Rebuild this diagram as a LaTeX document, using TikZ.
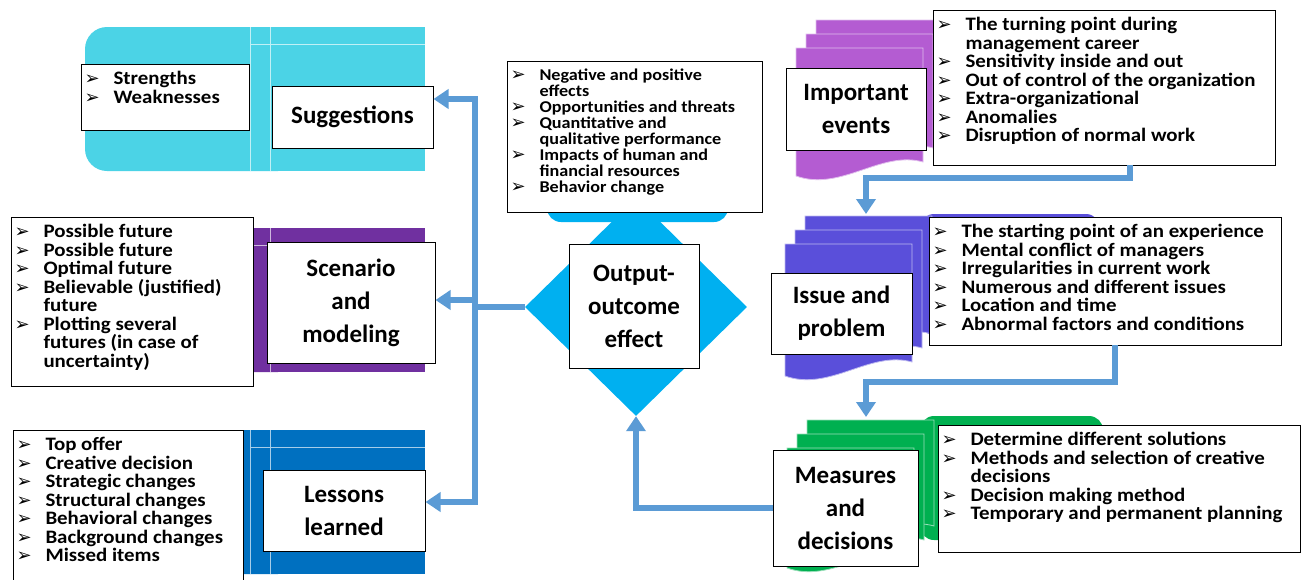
\documentclass[tikz,border=0pt]{standalone}
\usepackage{fontspec}
\setmainfont{Carlito}
\newfontfamily\bulfont[FakeStretch=1.1]{Carlito}
\newfontfamily\symfont{DejaVu Sans}
\usetikzlibrary{arrows.meta, shapes.geometric}

\definecolor{sugcol}{HTML}{4BD3E6}
\definecolor{scncol}{HTML}{7030A0}
\definecolor{lescol}{HTML}{0070C0}
\definecolor{outcol}{HTML}{00B0F0}
\definecolor{impcol}{HTML}{B45CD2}
\definecolor{isscol}{HTML}{5A4FDA}
\definecolor{meacol}{HTML}{00B050}
\definecolor{arrcol}{HTML}{5B9BD5}

\newcommand\itm[1]{\par\noindent\hangindent=29pt\hangafter=1\makebox[29pt][l]{\symfont\fontsize{18}{18}\selectfont ➢}#1}
\newcommand\lst[3]{\parbox[c][#2][t]{#1}{\vspace*{4pt}#3}}

\begin{document}
\begin{tikzpicture}[x=1pt, y=-1pt,
    titlebox/.style={draw, line width=1pt, fill=white, align=center, inner sep=2pt,
      font=\bfseries\fontsize{25}{33}\selectfont},
    listbox/.style={draw, line width=1pt, fill=white, anchor=north west, inner sep=3pt,
      font=\bulfont\bfseries\fontsize{19}{18.5}\selectfont},
    conn/.style={draw=arrcol, line width=6pt},
    arr/.style={conn, -{Triangle[width=19pt,length=15pt]}}]
    \useasboundingbox (0,0) rectangle (1308,579);

    \foreach \ty/\col in {27/sugcol, 228/scncol, 430/lescol} {
        \fill[\col, rounded corners=22] (300,\ty) -- (85,\ty) -- (85,\ty+144) -- (300,\ty+144) -- cycle;
        \fill[\col] (250,\ty) rectangle (425,\ty+144);
        \draw[white!65!\col, line width=1pt] (250,\ty) -- (250,\ty+144) (270,\ty) -- (270,\ty+144)
            (250,\ty+17) -- (425,\ty+17);
    }

    \fill[isscol, rounded corners=14] (920,214) rectangle (1100,335);
    \fill[meacol, rounded corners=14] (920,416) rectangle (1103,540);
    \foreach \fx/\fy/\h/\col in {796/48/132/impcol, 785/244/136/isscol, 787/448/124/meacol}
        \foreach \k in {2,1,0}
            \fill[\col, draw=white!60!\col, line width=0.8pt, shift={(\fx+10*\k,\fy-14*\k)}]
                (0,0) -- (127,0) -- (127,\h-18) .. controls (85,\h-30) and (45,\h+12) .. (0,\h-4) -- cycle;

    \fill[outcol, rounded corners=14] (547,150) rectangle (728,222);
    \node[diamond, fill=outcol, minimum width=222, minimum height=218, inner sep=0] (dia) at (636,307) {};

    \node[listbox] (sugb) at (81,64) {\lst{162pt}{60pt}{%
        \itm{Strengths}\itm{Weaknesses}}};
    \node[listbox] (scnb) at (11,217) {\lst{236pt}{163pt}{%
        \itm{Possible future}\itm{Possible future}\itm{Optimal future}%
        \itm{Believable (justified)\\future}%
        \itm{Plotting several\\futures (in case of\\uncertainty)}}};
    \node[listbox] (lesb) at (13,430) {\lst{224pt}{154pt}{%
        \itm{Top offer}\itm{Creative decision}\itm{Strategic changes}%
        \itm{Structural changes}\itm{Behavioral changes}\itm{Background changes}%
        \itm{Missed items}}};
    \node[listbox] (outb) at (507,61) {\lst{249pt}{145pt}{%
        \fontsize{16.5}{16}\selectfont
        \itm{Negative and positive\\effects}\itm{Opportunities and threats}%
        \itm{Quantitative and\\qualitative performance}%
        \itm{Impacts of human and\\financial resources}\itm{Behavior change}}};
    \node[listbox] (impb) at (933,10) {\lst{336pt}{149pt}{%
        \itm{The turning point during\\management career}%
        \itm{Sensitivity inside and out}\itm{Out of control of the organization}%
        \itm{Extra-organizational}\itm{Anomalies}\itm{Disruption of normal work}}};
    \node[listbox] (issb) at (929,217) {\lst{346pt}{122pt}{%
        \itm{The starting point of an experience}\itm{Mental conflict of managers}%
        \itm{Irregularities in current work}\itm{Numerous and different issues}%
        \itm{Location and time}\itm{Abnormal factors and conditions}}};
    \node[listbox] (meab) at (938,425) {\lst{356pt}{121pt}{%
        \itm{Determine different solutions}%
        \itm{Methods and selection of creative\\decisions}%
        \itm{Decision making method}\itm{Temporary and permanent planning}}};

    \node[titlebox, minimum width=161, minimum height=62] (sugt) at (352.5,117) {Suggestions};
    \node[titlebox, minimum width=168, minimum height=121] (scnt) at (351,302.5) {Scenario\\and\\modeling};
    \node[titlebox, minimum width=162, minimum height=81] (lest) at (344,510.5) {Lessons\\learned};
    \node[titlebox, minimum width=130, minimum height=124] (outt) at (634,306) {Output-\\outcome\\effect};
    \node[titlebox, minimum width=140, minimum height=82] (impt) at (856,109) {Important\\events};
    \node[titlebox, minimum width=141, minimum height=81] (isst) at (841.5,313.5) {Issue and\\problem};
    \node[titlebox, minimum width=145, minimum height=116] (meat) at (845.5,508) {Measures\\and\\decisions};

    \coordinate (jt) at (475,99);
    \coordinate (jm) at (475,300);
    \coordinate (jb) at (475,502);
    \coordinate (impout) at (1130,165);
    \coordinate (isstop) at (866,214);
    \coordinate (issout) at (1115,345);
    \coordinate (meatop) at (866,417);

    \draw[conn, line cap=rect] (jt) -- (jb);
    \draw[arr] (jt) -- (jt -| sugt.east);
    \draw[arr] (jm) -- (jm -| scnt.east);
    \draw[arr] (jb) -- (jb -| lest.east);
    \draw[conn] (dia.west) -- (dia.west -| jt);
    \draw[arr] (meat.west) -| (dia.south);
    \draw[arr] (impout) -- ++(0,13) -| (isstop);
    \draw[arr] (issout) -- ++(0,37) -| (meatop);
\end{tikzpicture}
\end{document}
